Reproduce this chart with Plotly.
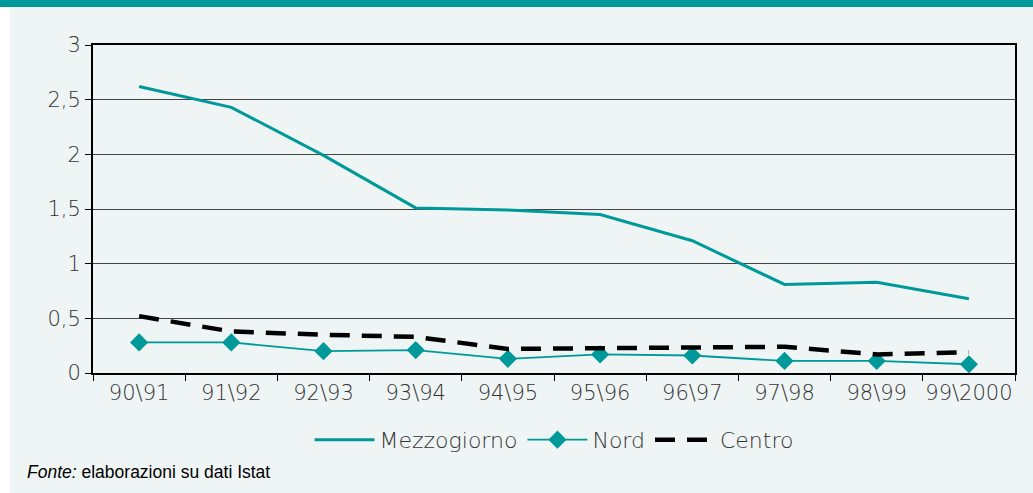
import plotly.graph_objects as go

categories = ["90\\91", "91\\92", "92\\93", "93\\94", "94\\95", "95\\96", "96\\97", "97\\98", "98\\99", "99\\2000"]
mezzogiorno = [2.62, 2.43, 1.99, 1.51, 1.49, 1.45, 1.21, 0.81, 0.83, 0.68]
nord = [0.28, 0.28, 0.20, 0.21, 0.13, 0.17, 0.16, 0.11, 0.11, 0.08]
centro = [0.52, 0.38, 0.35, 0.33, 0.22, 0.23, 0.24, 0.24, 0.17, 0.19]
y_ticks = [0, 0.5, 1, 1.5, 2, 2.5, 3]
y_labels = ["0", "0,5", "1", "1,5", "2", "2,5", "3"]

TEAL = "#009999"
BG = "#EFF5F5"
W, H = 1033, 493
ML, MR, MT, MB = 93, 18, 45, 120
PW, PH = W - ML - MR, H - MT - MB

fig = go.Figure()
fig.add_trace(go.Scatter(x=categories, y=mezzogiorno, name="Mezzogiorno", mode="lines",
                         line=dict(color=TEAL, width=3)))
fig.add_trace(go.Scatter(x=categories, y=nord, name="Nord", mode="lines+markers",
                         line=dict(color=TEAL, width=1.8),
                         marker=dict(symbol="diamond", size=14, color=TEAL)))
fig.add_trace(go.Scatter(x=categories, y=centro, name="Centro", mode="lines",
                         line=dict(color="black", width=4.5, dash="20px,12px")))

font_tick = dict(family="DejaVu Sans, sans-serif", size=21, color="#333333", weight=200)
font_leg = dict(family="DejaVu Sans, sans-serif", size=22, color="#333333", weight=200)

fig.update_layout(
    width=W, height=H,
    margin=dict(l=ML, r=MR, t=MT, b=MB, autoexpand=False),
    paper_bgcolor=BG, plot_bgcolor=BG,
    font=font_tick,
    showlegend=True,
    legend=dict(orientation="h", x=0.5, xanchor="center", y=-0.14, yanchor="top",
                font=font_leg, bgcolor="rgba(0,0,0,0)", itemwidth=60),
    xaxis=dict(type="category", showgrid=False, showline=True, linecolor="black", linewidth=2,
               mirror=True, ticks="outside", tickson="boundaries", ticklen=6, tickcolor="black",
               tickfont=font_tick, tickangle=0, automargin=False, range=[-0.5, 9.5]),
    yaxis=dict(range=[0, 3], tickvals=y_ticks, ticktext=y_labels, showgrid=True,
               gridcolor="#444444", gridwidth=1, showline=True, linecolor="black", linewidth=2,
               mirror=True, ticks="outside", ticklen=6, tickcolor="black", zeroline=False,
               tickfont=font_tick, automargin=False),
    shapes=[
        dict(type="rect", xref="paper", yref="paper",
             x0=-ML / PW, x1=(W - ML) / PW, y0=1 + (MT - 7) / PH, y1=1 + MT / PH + 0.01,
             fillcolor=TEAL, line=dict(width=0), layer="above"),
        dict(type="rect", xref="paper", yref="paper",
             x0=-ML / PW - 0.01, x1=-(ML - 10) / PW, y0=-MB / PH - 0.01, y1=1 + (MT - 7) / PH,
             fillcolor="white", line=dict(width=0), layer="above"),
    ],
    annotations=[
        dict(text="<i>Fonte:</i> elaborazioni su dati Istat", xref="paper", yref="paper",
             x=-(ML - 25) / PW, xanchor="left", y=-(472 - MT - PH) / PH, yanchor="middle",
             showarrow=False, font=dict(family="Liberation Sans, Arial, sans-serif", size=17.5, color="black")),
    ],
)

fig.write_html("out.html", config={"displayModeBar": False},
               post_script="document.body.style.margin='0';")
